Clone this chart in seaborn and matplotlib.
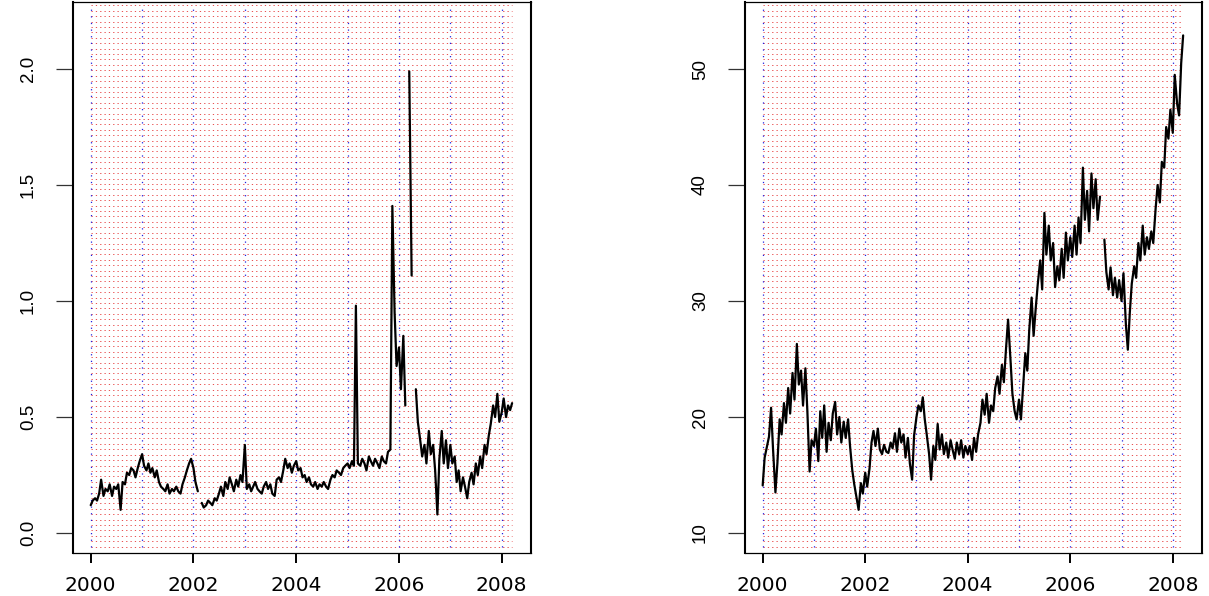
import numpy as np
import pandas as pd
import matplotlib
matplotlib.use("Agg")
import matplotlib.pyplot as plt
import seaborn as sns
from matplotlib import transforms

nan = np.nan

# ---- data: semi-monthly observations, Jan 2000 .. Mar 2008 ----
dates = pd.date_range("2000-01-01", "2008-03-15", freq="SMS")

# left panel series
v2000 = [.12, .14, .15, .14, .17, .23, .16, .19, .18, .21, .16, .20, .19, .21, .10, .22, .21, .26, .25, .28, .27, .24, .28, .31]
v2001 = [.34, .29, .27, .30, .26, .28, .24, .27, .22, .20, .19, .18, .21, .17, .19, .18, .20, .18, .17, .21, .24, .27, .30, .32]
v2002 = [.28, .22, .18, nan, .13, .11, .12, .14, .13, .12, .15, .14, .17, .20, .16, .22, .19, .24, .21, .18, .23, .20, .25, .22]
v2003 = [.38, .19, .21, .18, .20, .22, .19, .18, .17, .20, .22, .19, .21, .17, .16, .23, .24, .22, .27, .32, .28, .30, .26, .29]
v2004 = [.31, .27, .28, .24, .25, .22, .24, .21, .20, .22, .19, .21, .20, .22, .20, .19, .23, .25, .24, .27, .26, .25, .28, .29]
v2005 = [.30, .28, .31, .29, .98, .30, .29, .32, .30, .27, .33, .31, .29, .32, .30, .28, .33, .31, .30, .35, .36, 1.41, .95, .72]
v2006 = [.80, .62, .85, .55, nan, 1.99, 1.11, nan, .62, .48, .40, .33, .38, .30, .44, .34, .38, .27, .08, .32, .44, .30, .40, .28]
v2007 = [.38, .30, .33, .22, .27, .18, .24, .20, .15, .22, .26, .21, .30, .25, .33, .28, .38, .34, .42, .47, .55, .50, .60, .48]
v2008 = [.52, .58, .50, .55, .53, .56]

# right panel series
p2000 = [14.1, 16.5, 17.5, 18.3, 20.8, 17.2, 13.5, 16.0, 19.8, 18.5, 21.2, 19.5, 22.5, 20.3, 23.8, 21.5, 26.3, 22.8, 24.0, 21.0, 24.2, 20.5, 15.3, 18.0]
p2001 = [17.5, 19.0, 16.2, 20.5, 18.2, 21.0, 17.0, 19.5, 18.0, 20.3, 21.3, 18.5, 20.0, 17.8, 19.6, 18.2, 19.8, 17.5, 15.4, 14.2, 13.0, 12.0, 14.3, 13.4]
p2002 = [15.2, 14.0, 15.6, 17.8, 18.8, 17.5, 19.0, 17.2, 16.8, 17.6, 17.0, 16.9, 17.8, 17.3, 18.6, 17.0, 19.0, 17.8, 18.5, 16.5, 18.2, 16.0, 14.6, 18.4]
p2003 = [20.0, 21.0, 20.5, 21.7, 19.8, 18.5, 16.8, 14.6, 17.5, 16.3, 19.4, 17.2, 18.5, 16.8, 17.8, 16.5, 18.0, 17.2, 16.4, 17.8, 16.8, 18.0, 16.5, 17.5]
p2004 = [16.8, 17.5, 16.3, 18.2, 17.0, 18.5, 19.5, 21.5, 20.2, 22.0, 19.5, 21.0, 20.5, 22.5, 23.5, 22.0, 24.5, 23.0, 26.0, 28.4, 25.0, 22.0, 20.5, 19.8]
p2005 = [21.5, 19.8, 23.0, 25.5, 24.0, 27.5, 30.3, 27.0, 29.5, 31.5, 33.5, 31.0, 37.6, 34.0, 36.5, 33.5, 35.0, 31.2, 33.0, 31.8, 34.5, 32.0, 35.9, 33.5]
p2006 = [35.5, 33.8, 36.5, 34.0, 37.2, 35.0, 41.5, 37.0, 39.5, 36.0, 41.0, 38.0, 40.5, 37.0, 39.0, nan, 35.3, 32.5, 31.0, 32.9, 30.5, 32.0, 30.3, 31.8]
p2007 = [30.0, 32.4, 28.0, 25.8, 29.0, 31.5, 33.0, 32.0, 35.0, 33.5, 36.5, 34.0, 35.5, 34.5, 36.0, 35.0, 38.0, 40.0, 38.5, 42.0, 41.5, 45.0, 44.0, 46.5]
p2008 = [44.5, 49.5, 47.0, 46.0, 50.5, 52.9]

left_vals = np.array(v2000 + v2001 + v2002 + v2003 + v2004 + v2005 + v2006 + v2007 + v2008, dtype=float)
right_vals = np.array(p2000 + p2001 + p2002 + p2003 + p2004 + p2005 + p2006 + p2007 + p2008, dtype=float)

x_ticks = [2000, 2002, 2004, 2006, 2008]
x_ticklabels = ["2000", "2002", "2004", "2006", "2008"]
grid_years = [2000, 2001, 2002, 2003, 2004, 2005, 2006, 2007, 2008]
left_yticks = [0.0, 0.5, 1.0, 1.5, 2.0]
left_yticklabels = ["0.0", "0.5", "1.0", "1.5", "2.0"]
right_yticks = [10, 20, 30, 40, 50]
right_yticklabels = ["10", "20", "30", "40", "50"]

# ---- derived x positions (decimal years) ----
tyear = (dates.year + (dates.dayofyear - 1) / (365 + dates.is_leap_year.astype(int))).to_numpy()


def make_df(vals):
    seg = np.cumsum(np.isnan(vals))
    df = pd.DataFrame({"t": tyear, "v": vals, "seg": seg})
    return df.dropna()


sns.set_theme(style="white")
plt.rcParams["font.family"] = ["Liberation Sans", "DejaVu Sans"]
plt.rcParams["text.color"] = "black"
plt.rcParams["xtick.color"] = "black"
plt.rcParams["ytick.color"] = "black"
plt.rcParams["xtick.labelcolor"] = "black"
plt.rcParams["ytick.labelcolor"] = "black"

fig = plt.figure(figsize=(12.09, 5.96), dpi=100)
ax1 = fig.add_axes([73 / 1209, 43 / 596, 458 / 1209, 551 / 596])
ax2 = fig.add_axes([745 / 1209, 43 / 596, 457 / 1209, 551 / 596])

panels = [
    (ax1, left_vals, (-0.086, 2.289), left_yticks, left_yticklabels),
    (ax2, right_vals, (8.276, 55.78), right_yticks, right_yticklabels),
]

for ax, vals, ylim, yt, ytl in panels:
    ax.set_facecolor("white")
    ax.set_xlim(1999.655, 2008.57)
    ax.set_ylim(*ylim)

    # dotted grid
    blend = transforms.blended_transform_factory(ax.transData, ax.transAxes)
    ys = np.linspace(0.0114, 0.994, 101)
    ax.hlines(ys, tyear[0], tyear[-1], transform=blend, colors="#e01010", alpha=0.85,
              linewidth=0.6, linestyles=[(0, (1.5, 3.7))], zorder=1)
    ax.vlines(grid_years, 0.0114, 0.994, transform=blend, colors="#2020e0",
              linewidth=0.9, linestyles=[(0, (1, 4.3))], zorder=1.5)

    df = make_df(vals)
    sns.lineplot(data=df, x="t", y="v", units="seg", estimator=None,
                 color="black", linewidth=1.6, ax=ax, zorder=3, legend=False)

    ax.set_xlabel("")
    ax.set_ylabel("")
    ax.grid(False)

    ax.set_xticks(x_ticks)
    ax.set_xticklabels(x_ticklabels, family=["DejaVu Sans"], fontsize=14.5, color="black")
    ax.set_yticks(yt)
    ax.set_yticklabels(ytl, rotation=90, va="center", fontsize=13.5, color="black")

    ax.tick_params(axis="x", direction="out", length=7.5, width=1.4,
                   color="black", pad=9, bottom=True)
    ax.tick_params(axis="y", direction="out", length=12, width=0.9,
                   color="#333333", pad=14, left=True)

    for side in ["left", "right"]:
        ax.spines[side].set_linewidth(1.5)
        ax.spines[side].set_color("black")
    for side in ["top", "bottom"]:
        ax.spines[side].set_linewidth(0.9)
        ax.spines[side].set_color("black")

fig.savefig("out.png", dpi=100, facecolor="white")
